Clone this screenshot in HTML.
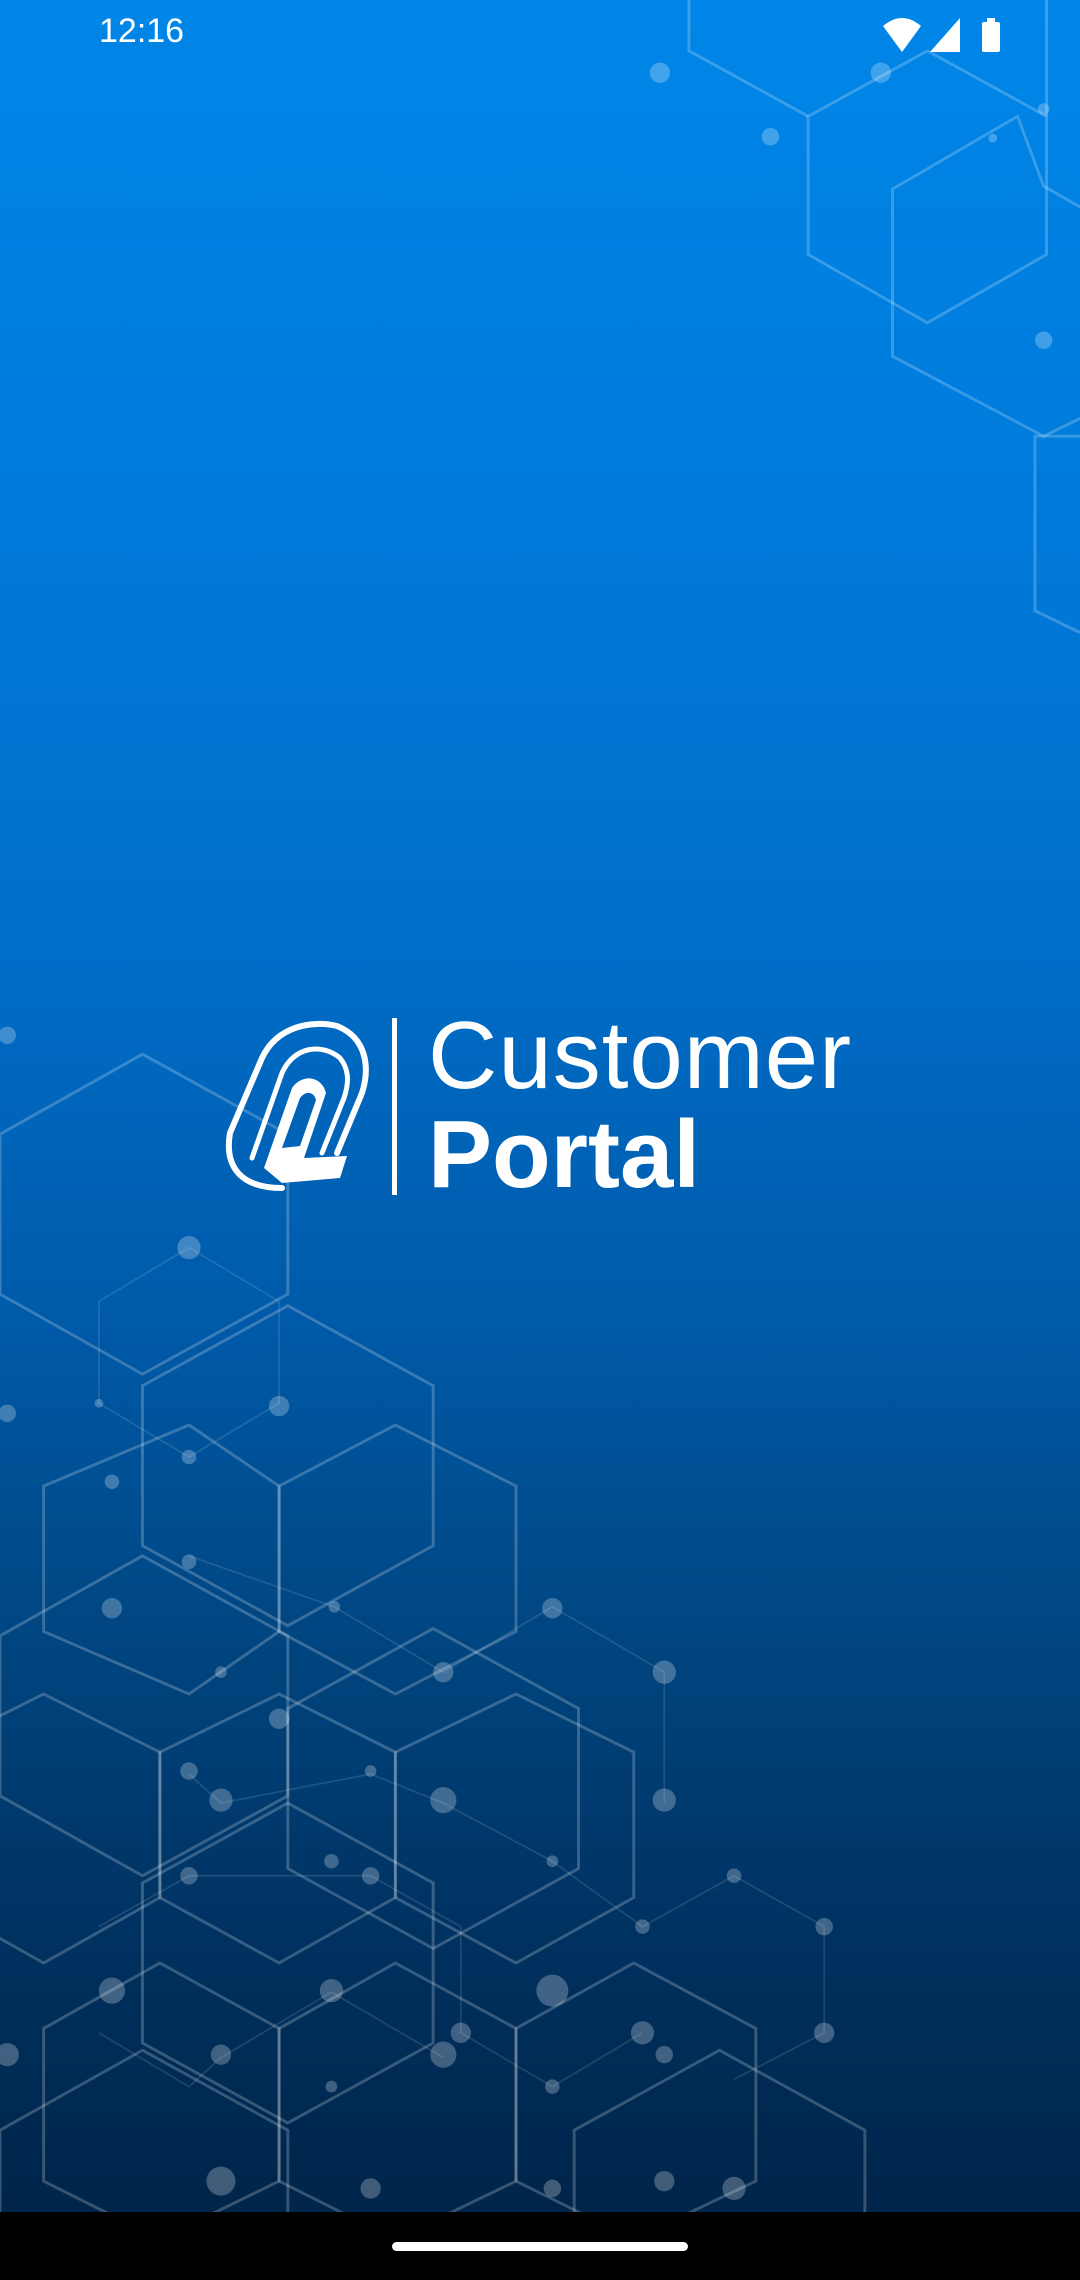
<!DOCTYPE html>
<html><head><meta charset="utf-8"><style>
html,body{margin:0;padding:0}
body{width:1080px;height:2280px;position:relative;overflow:hidden;
background:linear-gradient(180deg,#0086e8 0%,#0079d9 25%,#006dc8 42%,#005aa8 58%,#004580 72%,#00305e 86%,#00254a 97%);font-family:"Liberation Sans",sans-serif}
svg.bg{position:absolute;left:0;top:0}
.time{position:absolute;left:99px;top:12px;color:#fff;font-size:34px}
.nav{position:absolute;left:0;top:2212px;width:1080px;height:68px;background:#000}
.pill{position:absolute;left:392px;top:2242px;width:296px;height:9px;border-radius:5px;background:#fff}
.bar{position:absolute;left:392px;top:1018px;width:5px;height:177px;background:#fff}
.t1{position:absolute;left:428px;top:1008px;color:#fff;font-size:96px;font-weight:300;letter-spacing:1px;line-height:1}
.t2{position:absolute;left:428px;top:1107px;color:#fff;font-size:96px;font-weight:bold;line-height:1}
</style></head><body>
<svg class="bg" width="1080" height="2280" viewBox="0 0 743 1568" preserveAspectRatio="none">
<g fill="none" stroke="#ffffff" stroke-opacity="0.22" stroke-width="2">
<path d="M98,725 L198,780 L198,890 L98,945 L0,890 L0,780 Z"/>
<path d="M198,898 L298,953 L298,1063 L198,1118 L98,1063 L98,953 Z"/>
<path d="M98,1070 L198,1125 L198,1235 L98,1290 L0,1235 L0,1125 Z"/>
<path d="M298,1120 L398,1175 L398,1285 L298,1340 L198,1285 L198,1175 Z"/>
<path d="M198,1240 L298,1295 L298,1405 L198,1460 L98,1405 L98,1295 Z"/>
<path d="M98,1410 L198,1465 L198,1575 L98,1630 L0,1575 L0,1465 Z"/>
<path d="M130,980 L192,1022 L192,1122 L130,1165 L30,1122 L30,1022 Z"/>
<path d="M272,980 L355,1022 L355,1122 L272,1165 L192,1122 L192,1022 Z"/>
<path d="M192,1165 L272,1205 L272,1305 L192,1350 L110,1305 L110,1205 Z"/>
<path d="M355,1165 L436,1205 L436,1305 L355,1350 L272,1305 L272,1205 Z"/>
<path d="M30,1165 L110,1205 L110,1305 L30,1350 L-50,1305 L-50,1205 Z"/>
<path d="M110,1350 L192,1395 L192,1500 L110,1540 L30,1500 L30,1395 Z"/>
<path d="M272,1350 L355,1395 L355,1500 L272,1540 L192,1500 L192,1395 Z"/>
<path d="M495,1410 L595,1465 L595,1575 L495,1630 L395,1575 L395,1465 Z"/>
<path d="M436,1350 L520,1395 L520,1500 L436,1540 L355,1500 L355,1395 Z"/>
<path d="M638,35 L720,80 L720,175 L638,222 L556,175 L556,80 Z"/>
<path d="M718,128 L800,175 L800,260 L718,300 L614,245 L614,130 L700,80 Z"/>
<path d="M474,0 L474,35 L556,80"/>
<path d="M720,0 L720,80"/>
<path d="M743,300 L712,300 L712,420 L743,435"/>
</g>
<g fill="none" stroke="#ffffff" stroke-opacity="0.12" stroke-width="1.2">
<path d="M68,895 L130,858 L192,895 L192,965 L130,1002 L68,965 Z"/>
<path d="M130,1070 L230,1105 L305,1150 L380,1105 L457,1150 L457,1240"/>
<path d="M130,1220 L152,1240 L255,1220 L305,1240 L380,1280 L442,1325 L505,1290 L567,1325 L567,1398 L505,1430"/>
<path d="M68,1325 L130,1290 L255,1290 L317,1325 L317,1398 L380,1435 L442,1398"/>
<path d="M68,1398 L130,1435 L152,1415 L228,1370 L305,1415"/>
</g>
<g fill="#ffffff" fill-opacity="0.25">
<circle cx="130" cy="858" r="8"/><circle cx="192" cy="967" r="7"/><circle cx="68" cy="965" r="3"/>
<circle cx="77" cy="1019" r="5"/><circle cx="130" cy="1002" r="5"/><circle cx="130" cy="1074" r="5"/>
<circle cx="77" cy="1106" r="7"/><circle cx="230" cy="1105" r="4"/><circle cx="380" cy="1106" r="7"/>
<circle cx="305" cy="1150" r="7"/><circle cx="457" cy="1150" r="8"/><circle cx="152" cy="1150" r="4"/>
<circle cx="192" cy="1182" r="7"/><circle cx="130" cy="1218" r="6"/><circle cx="255" cy="1218" r="4"/>
<circle cx="152" cy="1238" r="8"/><circle cx="305" cy="1238" r="9"/><circle cx="457" cy="1238" r="8"/>
<circle cx="228" cy="1280" r="5"/><circle cx="380" cy="1280" r="4"/><circle cx="505" cy="1290" r="5"/>
<circle cx="130" cy="1290" r="6"/><circle cx="255" cy="1290" r="6"/><circle cx="442" cy="1325" r="5"/>
<circle cx="567" cy="1325" r="6"/><circle cx="77" cy="1369" r="9"/><circle cx="228" cy="1369" r="8"/>
<circle cx="380" cy="1369" r="11"/><circle cx="317" cy="1398" r="7"/><circle cx="442" cy="1398" r="8"/>
<circle cx="567" cy="1398" r="7"/><circle cx="152" cy="1413" r="7"/><circle cx="305" cy="1413" r="9"/>
<circle cx="457" cy="1413" r="6"/><circle cx="5" cy="1413" r="8"/><circle cx="228" cy="1435" r="4"/>
<circle cx="380" cy="1435" r="5"/><circle cx="152" cy="1500" r="10"/><circle cx="255" cy="1505" r="7"/>
<circle cx="380" cy="1505" r="6"/><circle cx="457" cy="1500" r="7"/><circle cx="505" cy="1505" r="8"/>
<circle cx="5" cy="712" r="6"/><circle cx="5" cy="972" r="6"/>
<circle cx="454" cy="50" r="7"/><circle cx="530" cy="94" r="6"/><circle cx="606" cy="50" r="7"/>
<circle cx="718" cy="234" r="6"/><circle cx="718" cy="75" r="4"/><circle cx="683" cy="95" r="3"/>
</g>
</svg>
<div class="time">12:16</div>
<svg style="position:absolute;left:880px;top:16px" width="130" height="36" viewBox="0 0 130 36">
<path d="M3,10 Q22,-6 41,10 L22,36 Z" fill="#fff"/>
<path d="M50,36 L80,2 L80,36 Z" fill="#fff"/>
<rect x="102" y="6" width="18" height="30" rx="2" fill="#fff"/><rect x="107" y="2" width="8" height="5" fill="#fff"/>
</svg>
<svg style="position:absolute;left:222px;top:1018px" width="150" height="178" viewBox="0 0 150 178">
<g fill="none" stroke="#fff" stroke-linecap="round">
<path d="M60,170 C20,170 2,150 8,115 L40,40 C55,8 90,2 115,8 C145,20 148,50 140,75 L115,135" stroke-width="6"/>
<path d="M30,140 L60,55 C72,28 100,25 118,40 C126,50 128,62 122,80 L100,135" stroke-width="5"/>
</g>
<path d="M42,150 L70,70 C80,55 100,58 104,75 L82,140 L125,138 L118,160 L60,165 Z" fill="#fff"/>
<path d="M60,130 L78,80 C84,72 92,74 94,82 L78,128 Z" fill="#0063b8"/>
</svg>
<div class="bar"></div>
<div class="t1">Customer</div>
<div class="t2">Portal</div>
<div class="nav"></div><div class="pill"></div>
</body></html>
